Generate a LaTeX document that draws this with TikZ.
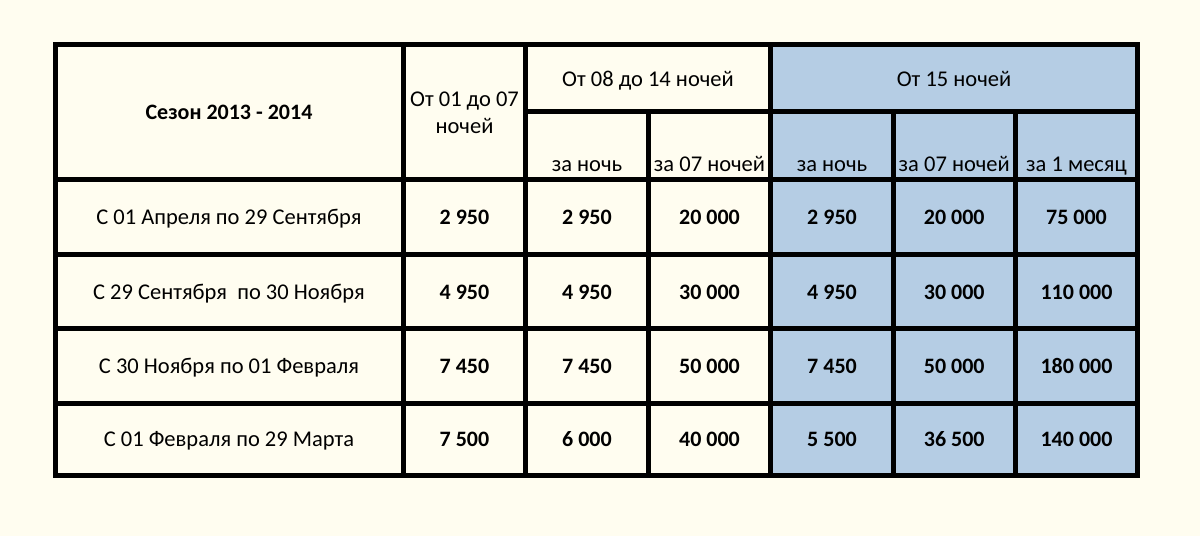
\documentclass[tikz,border=0pt]{standalone}
\usepackage{fontspec}
\setmainfont{Carlito}
\definecolor{bgcream}{RGB}{255,253,240}
\definecolor{cellblue}{RGB}{181,205,228}
\begin{document}
\begin{tikzpicture}[x=1pt,y=-1pt,
  grid/.style={line width=5pt,line cap=rect,black},
  txt/.style={anchor=base,inner sep=0pt,font=\fontsize{22.5}{27}\selectfont},
  btxt/.style={anchor=base,inner sep=0pt,font=\fontsize{22}{26}\selectfont\bfseries},
  twol/.style={anchor=center,inner sep=0pt,align=center,font=\fontsize{22.5}{26.5}\selectfont}]
\fill[bgcream] (0,0) rectangle (1200,536);
\useasboundingbox (0,0) rectangle (1200,536);
\fill[cellblue] (770.5,44) rectangle (1137.5,475);
% grid
\draw[grid] (55,44) rectangle (1137.5,475);
\draw[grid] (403.5,44) -- (403.5,475);
\draw[grid] (525.5,44) -- (525.5,475);
\draw[grid] (770.5,44) -- (770.5,475);
\draw[grid] (648.5,111.5) -- (648.5,475);
\draw[grid] (893,111.5) -- (893,475);
\draw[grid] (1015.5,111.5) -- (1015.5,475);
\draw[grid] (525.5,111.5) -- (1137.5,111.5);
\draw[grid] (55,179.5) -- (1137.5,179.5);
\draw[grid] (55,254) -- (1137.5,254);
\draw[grid] (55,328.5) -- (1137.5,328.5);
\draw[grid] (55,403) -- (1137.5,403);
% header
\node[btxt] (season) at (229,119.5) {Сезон 2013 - 2014};
\node[twol] (h1) at (464.5,113) {От 01 до 07\\ночей};
\node[txt] (h2) at (648,86.5) {От 08 до 14 ночей};
\node[txt] (h3) at (954,86.5) {От 15 ночей};
\node[txt] (s1) at (587,171.5) {за ночь};
\node[txt] (s2) at (709.5,171.5) {за 07 ночей};
\node[txt] (s3) at (832,171.5) {за ночь};
\node[txt] (s4) at (954.25,171.5) {за 07 ночей};
\node[txt] (s5) at (1076.5,171.5) {за 1 месяц};
% rows
\foreach \y/\lab/\a/\b/\c/\d/\e/\f [count=\i] in {
  224.5/{С 01 Апреля по 29 Сентября}/2 950/2 950/20 000/2 950/20 000/75 000,
  299/{С 29 Сентября~ по 30 Ноября}/4 950/4 950/30 000/4 950/30 000/110 000,
  373.5/{С 30 Ноября по 01 Февраля}/7 450/7 450/50 000/7 450/50 000/180 000,
  446.5/{С 01 Февраля по 29 Марта}/7 500/6 000/40 000/5 500/36 500/140 000}{
  \node[txt] (r\i l) at (229,\y) {\lab};
  \node[btxt] (r\i a) at (464.5,\y) {\a};
  \node[btxt] (r\i b) at (587,\y) {\b};
  \node[btxt] (r\i c) at (709.5,\y) {\c};
  \node[btxt] (r\i d) at (832,\y) {\d};
  \node[btxt] (r\i e) at (954.25,\y) {\e};
  \node[btxt] (r\i f) at (1076.5,\y) {\f};
}
\end{tikzpicture}
\end{document}
